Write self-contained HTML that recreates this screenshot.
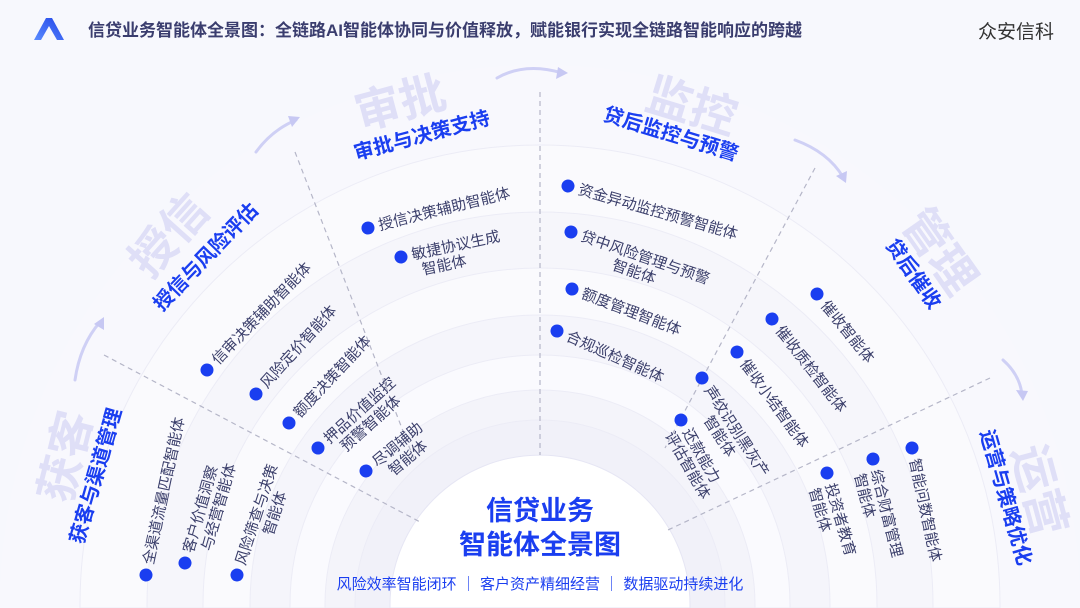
<!DOCTYPE html>
<html><head><meta charset="utf-8"><style>
html,body{margin:0;padding:0;background:#f7f8fd;width:1080px;height:608px;overflow:hidden;}
svg{display:block;overflow:hidden;font-family:"Liberation Sans","Noto Sans CJK SC",sans-serif;}
.it{font-size:15px;fill:#3b3f6b;}
.tt{font-size:20px;font-weight:bold;fill:#1a3ef0;}
.gh{font-size:46px;font-weight:bold;fill:#dfdff7;}
</style></head><body>
<svg width="1080" height="608" viewBox="0 0 1080 608" xmlns="http://www.w3.org/2000/svg">
<defs>
<linearGradient id="lg" x1="0" y1="1" x2="1" y2="0"><stop offset="0" stop-color="#5b8cff"/><stop offset="1" stop-color="#2346e8"/></linearGradient>
</defs>
<rect width="1080" height="608" fill="#f7f8fd"/>
<g stroke="#ececf6" stroke-width="1">
<path d="M0 608 L0 605 A540 540 0 0 1 1080 605 L1080 608Z" fill="#f8f8fd" stroke="none"/>
<path d="M80 608 L80 605 A460 460 0 0 1 1000 605 L1000 608Z" fill="#fafafd"/>
<path d="M147 608 L147 605 A393 393 0 0 1 933 605 L933 608Z" fill="#f6f6fb"/>
<path d="M203 608 L203 605 A337 337 0 0 1 877 605 L877 608Z" fill="#fafafd"/>
<path d="M250 608 L250 605 A290 290 0 0 1 830 605 L830 608Z" fill="#f5f5fb"/>
<path d="M290 608 L290 605 A250 250 0 0 1 790 605 L790 608Z" fill="#fafafe"/>
<path d="M325 608 L325 605 A215 215 0 0 1 755 605 L755 608Z" fill="#f4f4fa"/>
<path d="M355 608 L355 605 A185 185 0 0 1 725 605 L725 608Z" fill="#f1f1f9"/>
<path d="M390 608 L390 605 A150 150 0 0 1 690 605 L690 608Z" fill="#ffffff" stroke="#e6e6f4"/>
</g>
<g stroke="#b5b6c8" stroke-width="1.2" stroke-dasharray="5,4" fill="none">
<line x1="104" y1="355" x2="422" y2="523"/>
<line x1="295" y1="152" x2="415" y2="462"/>
<line x1="540" y1="92" x2="540" y2="455"/>
<line x1="815" y1="168" x2="665" y2="448"/>
<line x1="990" y1="378" x2="668" y2="530"/>
</g>
<g fill="none" stroke="#cfd0f5" stroke-width="3" stroke-linecap="round">
<path d="M75 380 Q80 345 100 322"/>
<path d="M256 152 Q272 130 296 120"/>
<path d="M497 78 Q525 62 562 73"/>
<path d="M795 140 Q828 152 843 177"/>
<path d="M1003 360 Q1020 375 1022 395"/>
</g>
<g fill="#c7c8f3">
<polygon points="104,317 104,330 94,324"/>
<polygon points="300,117 292,127 288,116"/>
<polygon points="568,73 556,79 558,67"/>
<polygon points="846,183 836,176 847,171"/>
<polygon points="1023,401 1016,390 1028,391"/>
</g>
<path d="M34 40 L46 18 L52 18 L64 40 L57 40 L49 26 L41 40Z" fill="url(#lg)"/>
<text x="88" y="36" font-size="17" font-weight="bold" fill="#3a3d6e">信贷业务智能体全景图：全链路AI智能体协同与价值释放，赋能银行实现全链路智能响应的跨越</text>
<text x="978" y="38" font-size="19" fill="#333">众安信科</text>
<g transform="translate(70,505) rotate(-76)"><text class="gh" x="0" y="0">获客</text></g>
<g transform="translate(83,545) rotate(-74)"><text class="tt" x="0" y="0">获客与渠道管理</text></g>
<g transform="translate(150,280) rotate(-48)"><text class="gh" x="0" y="0">授信</text></g>
<g transform="translate(162,312) rotate(-46)"><text class="tt" x="0" y="0">授信与风险评估</text></g>
<g transform="translate(360,130) rotate(-15)"><text class="gh" x="0" y="0">审批</text></g>
<g transform="translate(356,160) rotate(-15)"><text class="tt" x="0" y="0">审批与决策支持</text></g>
<g transform="translate(643,108) rotate(17)"><text class="gh" x="0" y="0">监控</text></g>
<g transform="translate(602,120) rotate(17)"><text class="tt" x="0" y="0">贷后监控与预警</text></g>
<g transform="translate(900,223) rotate(55)"><text class="gh" x="0" y="0">管理</text></g>
<g transform="translate(885,245) rotate(55)"><text class="tt" x="0" y="0">贷后催收</text></g>
<g transform="translate(1012,450) rotate(75)"><text class="gh" x="0" y="0">运营</text></g>
<g transform="translate(980,432) rotate(74)"><text class="tt" x="0" y="0">运营与策略优化</text></g>
<g fill="#1a3ef0">
<g transform="translate(146,575) rotate(-78)"><circle r="6.5"/><text class="it" x="11" y="5">全渠道流量匹配智能体</text></g>
<g transform="translate(185,563) rotate(-74)"><circle r="6.5"/><text class="it" x="11" y="5">客户价值洞察<tspan x="18" dy="17">与经营智能体</tspan></text></g>
<g transform="translate(237,575) rotate(-72)"><circle r="6.5"/><text class="it" x="11" y="5">风险筛查与决策<tspan x="48" dy="17">智能体</tspan></text></g>
<g transform="translate(207,370) rotate(-46)"><circle r="6.5"/><text class="it" x="11" y="5">信审决策辅助智能体</text></g>
<g transform="translate(256,394) rotate(-48)"><circle r="6.5"/><text class="it" x="11" y="5">风险定价智能体</text></g>
<g transform="translate(289,423) rotate(-47)"><circle r="6.5"/><text class="it" x="11" y="5">额度决策智能体</text></g>
<g transform="translate(318,448) rotate(-42)"><circle r="6.5"/><text class="it" x="11" y="5">押品价值监控<tspan x="18" dy="17">预警智能体</tspan></text></g>
<g transform="translate(366,471) rotate(-40)"><circle r="6.5"/><text class="it" x="11" y="5">尽调辅助<tspan x="18" dy="17">智能体</tspan></text></g>
<g transform="translate(368,228) rotate(-14)"><circle r="6.5"/><text class="it" x="11" y="5">授信决策辅助智能体</text></g>
<g transform="translate(401,257) rotate(-12)"><circle r="6.5"/><text class="it" x="11" y="5">敏捷协议生成<tspan x="18" dy="17">智能体</tspan></text></g>
<g transform="translate(568,186) rotate(16)"><circle r="6.5"/><text class="it" x="11" y="5">资金异动监控预警智能体</text></g>
<g transform="translate(571,232) rotate(19)"><circle r="6.5"/><text class="it" x="11" y="5">贷中风险管理与预警<tspan x="50" dy="17">智能体</tspan></text></g>
<g transform="translate(572,289) rotate(21)"><circle r="6.5"/><text class="it" x="11" y="5">额度管理智能体</text></g>
<g transform="translate(557,331) rotate(24)"><circle r="6.5"/><text class="it" x="11" y="5">合规巡检智能体</text></g>
<g transform="translate(817,294) rotate(51)"><circle r="6.5"/><text class="it" x="11" y="5">催收智能体</text></g>
<g transform="translate(772,319) rotate(52)"><circle r="6.5"/><text class="it" x="11" y="5">催收质检智能体</text></g>
<g transform="translate(737,352) rotate(54)"><circle r="6.5"/><text class="it" x="11" y="5">催收小结智能体</text></g>
<g transform="translate(702,378) rotate(57)"><circle r="6.5"/><text class="it" x="11" y="5">声纹识别黑灰产<tspan x="36" dy="17">智能体</tspan></text></g>
<g transform="translate(681,420) rotate(60)"><circle r="6.5"/><text class="it" x="11" y="5">还款能力<tspan x="5" dy="17">评估智能体</tspan></text></g>
<g transform="translate(912,448) rotate(78)"><circle r="6.5"/><text class="it" x="11" y="5">智能问数智能体</text></g>
<g transform="translate(873,459) rotate(76)"><circle r="6.5"/><text class="it" x="11" y="5">综合财富管理<tspan x="11" dy="17">智能体</tspan></text></g>
<g transform="translate(827,473) rotate(74)"><circle r="6.5"/><text class="it" x="11" y="5">投资者教育<tspan x="11" dy="17">智能体</tspan></text></g>
</g>
<text x="540" y="520" text-anchor="middle" font-size="27" font-weight="bold" fill="#1a3ef0">信贷业务</text>
<text x="540" y="554" text-anchor="middle" font-size="27" font-weight="bold" fill="#1a3ef0">智能体全景图</text>
<text x="540" y="589" text-anchor="middle" font-size="15" fill="#1a3ef0">风险效率智能闭环 ｜ 客户资产精细经营 ｜ 数据驱动持续进化</text>
</svg>
</body></html>
